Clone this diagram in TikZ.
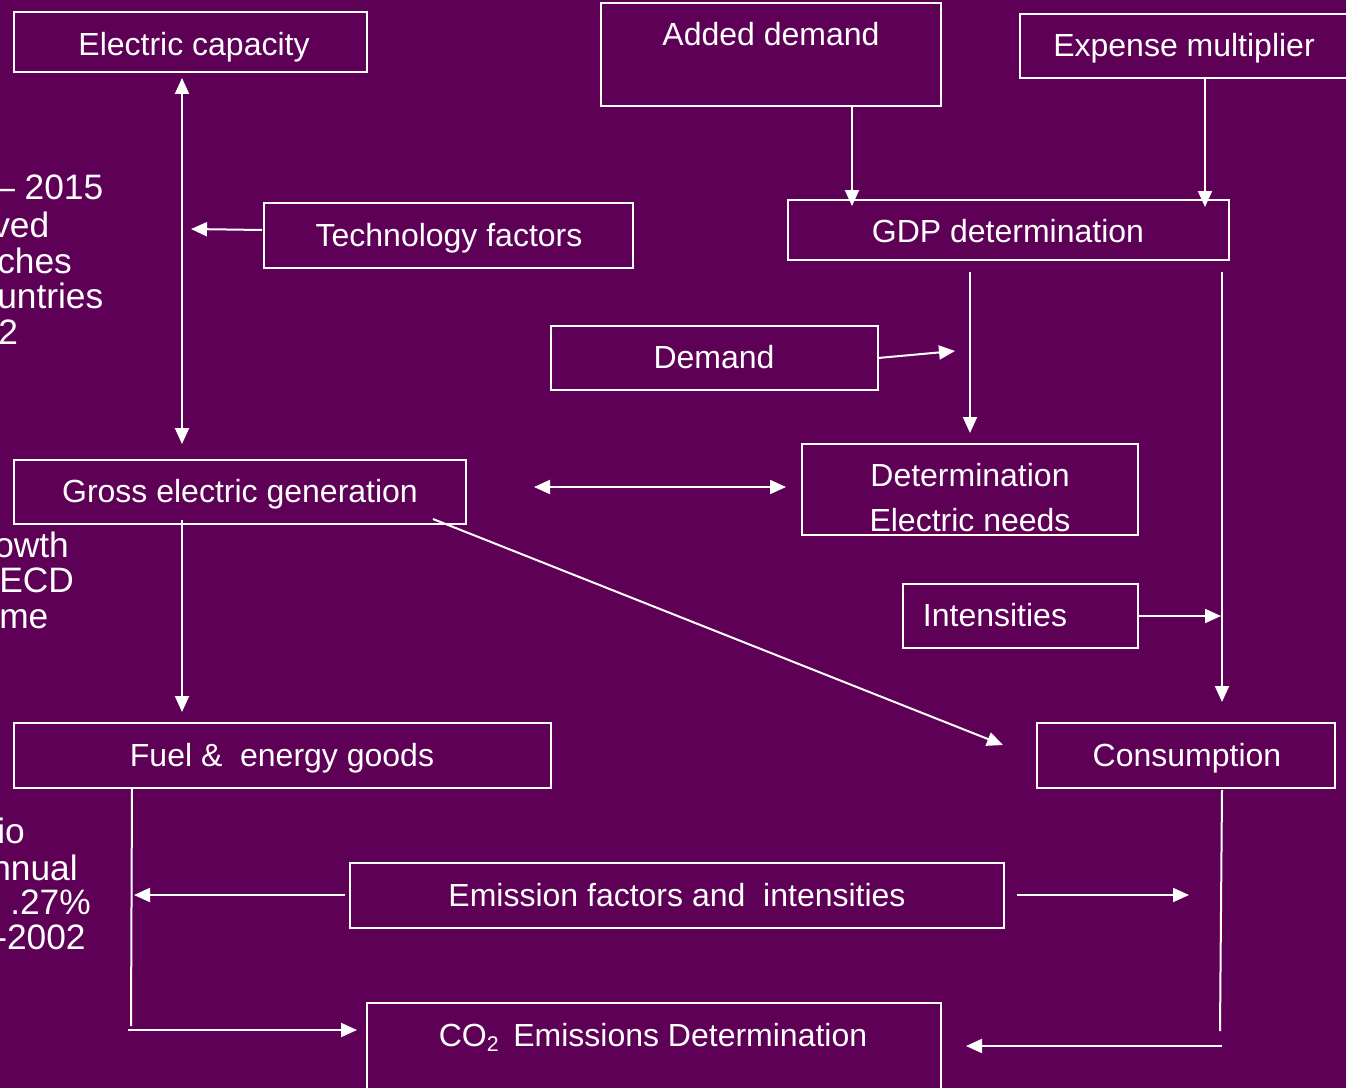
\documentclass[tikz,border=0pt]{standalone}
\usepackage{fontspec}
\setmainfont{Liberation Sans}
\usetikzlibrary{arrows.meta,fit}
\definecolor{bg}{RGB}{94,0,86}
\begin{document}
\begin{tikzpicture}[x=0.75pt,y=-0.75pt,
  box/.style={draw=white, line width=1.5pt, inner sep=0pt},
  lbl/.style={text=white, font=\fontsize{24}{28}\selectfont, inner sep=0pt, anchor=base},
  side/.style={text=white, font=\fontsize{26.5}{30}\selectfont, inner sep=0pt, anchor=base west},
  arr/.style={draw=white, line width=1.5pt, -{Triangle[length=12pt,width=10.5pt]}},
  darr/.style={draw=white, line width=1.5pt, {Triangle[length=12pt,width=10.5pt]}-{Triangle[length=12pt,width=10.5pt]}},
  ln/.style={draw=white, line width=1.5pt}]
\fill[bg] (0,0) rectangle (1346,1088);
\useasboundingbox (0,0) rectangle (1346,1088);
\clip (0,0) rectangle (1346,1088);

% side text fragments
\node[side] (s1) at (-5,199) {– 2015};
\node[side] (s2) at (-8,237) {ved};
\node[side] (s3) at (-3,273) {ches};
\node[side] (s4) at (-3,308) {untries};
\node[side] (s5) at (-2,344) {2};
\node[side] (s6) at (-6,557) {owth};
\node[side] (s7) at (-1,592) {ECD};
\node[side] (s8) at (-1,628) {me};
\node[side] (s9) at (-3,843) {io};
\node[side] (s10) at (-9,880) {nnual};
\node[side] (s11) at (10,914) {.27\%};
\node[side] (s12) at (-5,949) {-2002};

% boxes
\node[box, fit={(14,12)(367,72)}] (ecbox) {};
\node[box, fit={(601,3)(941,106)}] (adbox) {};
\node[box, fit={(1020,14)(1360,78)}] (exbox) {};
\node[box, fit={(264,203)(633,268)}] (tfbox) {};
\node[box, fit={(788,200)(1229,260)}] (gdpbox) {};
\node[box, fit={(551,326)(878,390)}] (dmbox) {};
\node[box, fit={(14,460)(466,524)}] (ggbox) {};
\node[box, fit={(802,444)(1138,535)}] (denbox) {};
\node[box, fit={(903,584)(1138,648)}] (inbox) {};
\node[box, fit={(14,723)(551,788)}] (fuelbox) {};
\node[box, fit={(1037,723)(1335,788)}] (conbox) {};
\node[box, fit={(350,863)(1004,928)}] (efbox) {};
\node[box, fit={(367,1003)(941,1100)}] (co2box) {};

% labels
\node[lbl] (ec) at (194,56) {Electric capacity};
\node[lbl] (ad) at (771,46) {Added demand};
\node[lbl] (ex) at (1184,57) {Expense multiplier};
\node[lbl] (tf) at (449,246) {Technology factors};
\node[lbl] (gdp) at (1008,242) {GDP determination};
\node[lbl] (dm) at (714,368) {Demand};
\node[lbl] (gg) at (240,502) {Gross electric generation};
\node[lbl] (den1) at (970,486) {Determination};
\node[lbl] (den2) at (970,531) {Electric needs};
\node[lbl] (in) at (995,626) {Intensities};
\node[lbl] (fuel) at (282,766) {Fuel \&\ \ energy goods};
\node[lbl] (con) at (1187,766) {Consumption};
\node[lbl] (ef) at (677,906) {Emission factors and\ \ intensities};
\node[lbl] (co2) at (653,1046) {CO\raisebox{-4pt}{\fontsize{16}{16}\selectfont 2}\hspace{11pt}Emissions Determination};

% connector coordinates
\coordinate (ca1) at (182,78);   \coordinate (ca2) at (182,444);
\coordinate (tf1) at (262,230);  \coordinate (tf2) at (191,229);
\coordinate (ad1) at (852,106);  \coordinate (ad2) at (852,206);
\coordinate (em1) at (1205,78);  \coordinate (em2) at (1205,207);
\coordinate (gd1) at (970,272);  \coordinate (gd2) at (970,433);
\coordinate (dm1) at (878,358);  \coordinate (dm2) at (955,351);
\coordinate (r1) at (1222,272);  \coordinate (r2) at (1222,702);
\coordinate (in1) at (1138,616); \coordinate (in2) at (1221,616);
\coordinate (h1) at (534,487);   \coordinate (h2) at (786,487);
\coordinate (g1) at (182,520);   \coordinate (g2) at (182,712);
\coordinate (dg1) at (433,519);  \coordinate (dg2) at (1003,745);
\coordinate (c1) at (1222,790);  \coordinate (c2) at (1220,1031);
\coordinate (c3) at (1222,1046); \coordinate (c4) at (966,1046);
\coordinate (ef1) at (345,895);  \coordinate (ef2) at (134,895);
\coordinate (ef3) at (1017,895); \coordinate (ef4) at (1189,895);
\coordinate (f1) at (132,788);   \coordinate (f2) at (131,1026);
\coordinate (f3) at (128,1030);  \coordinate (f4) at (357,1030);

% connectors
\draw[darr] (ca1) -- (ca2);
\draw[arr] (tf1) -- (tf2);
\draw[arr] (ad1) -- (ad2);
\draw[arr] (em1) -- (em2);
\draw[arr] (gd1) -- (gd2);
\draw[arr] (dm1) -- (dm2);
\draw[arr] (r1) -- (r2);
\draw[arr] (in1) -- (in2);
\draw[darr] (h1) -- (h2);
\draw[arr] (g1) -- (g2);
\draw[arr] (dg1) -- (dg2);
\draw[ln] (c1) -- (c2);
\draw[arr] (c3) -- (c4);
\draw[arr] (ef1) -- (ef2);
\draw[arr] (ef3) -- (ef4);
\draw[ln] (f1) -- (f2);
\draw[arr] (f3) -- (f4);
\end{tikzpicture}
\end{document}
